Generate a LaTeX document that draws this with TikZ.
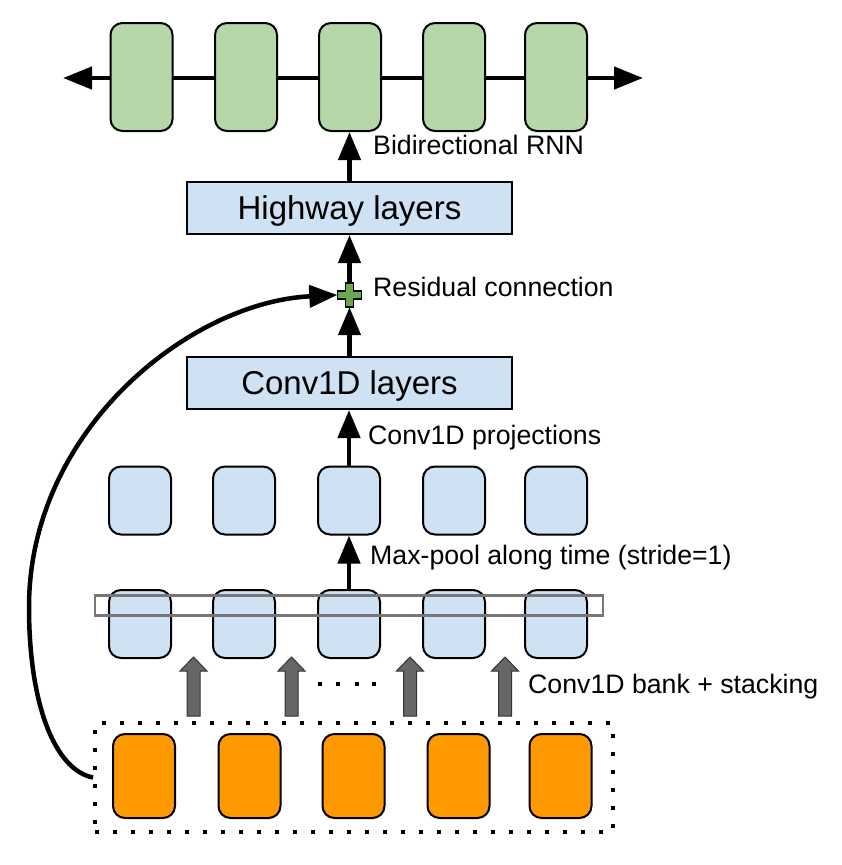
\documentclass[tikz,border=0pt]{standalone}
\usepackage{fontspec}
\setmainfont{Liberation Sans}
\usetikzlibrary{arrows.meta}
\definecolor{rnngreen}{HTML}{B6D7A8}
\definecolor{boxblue}{HTML}{CFE2F3}
\definecolor{inorange}{HTML}{FF9900}
\definecolor{plusgreen}{HTML}{6AA84F}
\definecolor{arrgray}{HTML}{666666}
\definecolor{rectgray}{HTML}{777777}
\tikzset{
  cell/.style={draw=black, line width=2pt, rounded corners=12pt, minimum width=62pt, inner sep=0pt},
  gcell/.style={cell, fill=rnngreen, minimum height=108pt},
  bcell/.style={cell, fill=boxblue, minimum height=68pt},
  ocell/.style={cell, fill=inorange, minimum height=84pt},
  layerbox/.style={draw=black, line width=2pt, fill=boxblue, minimum width=325pt, minimum height=52pt, inner sep=0pt, text height=23.6pt, text depth=0pt, font=\fontsize{33}{38}\selectfont},
  lbl/.style={anchor=base west, inner sep=0pt, font=\fontsize{26.7}{31}\selectfont},
  arr/.style={line width=4.5pt, -{Triangle[length=28pt,width=22pt]}},
  dotsq/.style={fill=black, minimum size=4pt, inner sep=0pt},
  barrow/.pic={\draw[fill=arrgray, draw=black!80, line width=1pt] (-6.5,0) -- (-6.5,-45) -- (-13.5,-45) -- (0,-59) -- (13.5,-45) -- (6.5,-45) -- (6.5,0) -- cycle;}
}
\begin{document}
\begin{tikzpicture}[x=1pt,y=-1pt]
\useasboundingbox (0,0) rectangle (841,865);

% bidirectional line
\coordinate (L) at (63,78);
\coordinate (R) at (643,78);
\draw[line width=4.5pt, {Triangle[length=29pt,width=22pt]}-{Triangle[length=29pt,width=22pt]}] (L) -- (R);

% RNN cells
\node[gcell] (g1) at (141.5,77) {};
\node[gcell] (g2) at (246,77) {};
\node[gcell] (g3) at (350,77) {};
\node[gcell] (g4) at (454,77) {};
\node[gcell] (g5) at (556,77) {};

% layer boxes
\node[layerbox] (hw) at (349.5,208) {Highway layers};
\node[layerbox] (cv) at (349.5,383) {Conv1D layers};

% plus
\node[minimum size=24pt, inner sep=0pt] (plus) at (349.5,295) {};
\draw[fill=plusgreen, draw=black, line width=1.5pt]
  ([xshift=-4pt,yshift=12pt]plus.center) -- ([xshift=4pt,yshift=12pt]plus.center)
  -- ([xshift=4pt,yshift=4pt]plus.center) -- ([xshift=12pt,yshift=4pt]plus.center)
  -- ([xshift=12pt,yshift=-4pt]plus.center) -- ([xshift=4pt,yshift=-4pt]plus.center)
  -- ([xshift=4pt,yshift=-12pt]plus.center) -- ([xshift=-4pt,yshift=-12pt]plus.center)
  -- ([xshift=-4pt,yshift=-4pt]plus.center) -- ([xshift=-12pt,yshift=-4pt]plus.center)
  -- ([xshift=-12pt,yshift=4pt]plus.center) -- ([xshift=-4pt,yshift=4pt]plus.center) -- cycle;

% pooled row
\node[bcell] (b1) at (140,500.5) {};
\node[bcell] (b2) at (244,500.5) {};
\node[bcell] (b3) at (349,500.5) {};
\node[bcell] (b4) at (454,500.5) {};
\node[bcell] (b5) at (556,500.5) {};

% bank row
\node[bcell] (c1) at (140,624) {};
\node[bcell] (c2) at (244,624) {};
\node[bcell] (c3) at (349,624) {};
\node[bcell] (c4) at (454,624) {};
\node[bcell] (c5) at (556,624) {};
\node[draw=rectgray, line width=2.2pt, minimum width=508pt, minimum height=20pt, inner sep=0pt] (win) at (349,605.5) {};

% input row
\node[ocell] (o1) at (144,776) {};
\node[ocell] (o2) at (249.5,776) {};
\node[ocell] (o3) at (353.5,776) {};
\node[ocell] (o4) at (458.5,776) {};
\node[ocell] (o5) at (560.5,776) {};
\node[draw=black, line width=4pt, dash pattern=on 4pt off 14pt, minimum width=518pt, minimum height=109pt, inner sep=0pt] (inp) at (354,777.5) {};

% block arrows
\pic (a1) at (193.5,716) {barrow};
\pic (a2) at (291.5,716) {barrow};
\pic (a3) at (410,716) {barrow};
\pic (a4) at (505,716) {barrow};

% dots
\node[dotsq] (d1) at (320,684) {};
\node[dotsq] (d2) at (338,684) {};
\node[dotsq] (d3) at (357,684) {};
\node[dotsq] (d4) at (374,684) {};

% connectors
\draw[arr] (hw.north) -- (hw.north |- g3.south);
\draw[arr] (plus.north) -- (plus.north |- hw.south);
\draw[arr] (cv.north) -- (cv.north |- plus.south);
\draw[arr] (b3.north) -- (b3.north |- cv.south);
\draw[arr] (c3.north) -- (c3.north |- b3.south);
\coordinate (cm) at (29,607);
\draw[arr] (inp.west) .. controls (55,770) and (29,705) .. (cm)
  .. controls (29,430) and (190,302) .. (plus.west);

% labels
\node[lbl] (t1) at (373,154) {Bidirectional RNN};
\node[lbl] (t2) at (373,296) {Residual connection};
\node[lbl] (t3) at (368,444) {Conv1D projections};
\node[lbl] (t4) at (370,564) {Max-pool along time (stride=1)};
\node[lbl] (t5) at (528,693) {Conv1D bank + stacking};
\end{tikzpicture}
\end{document}
